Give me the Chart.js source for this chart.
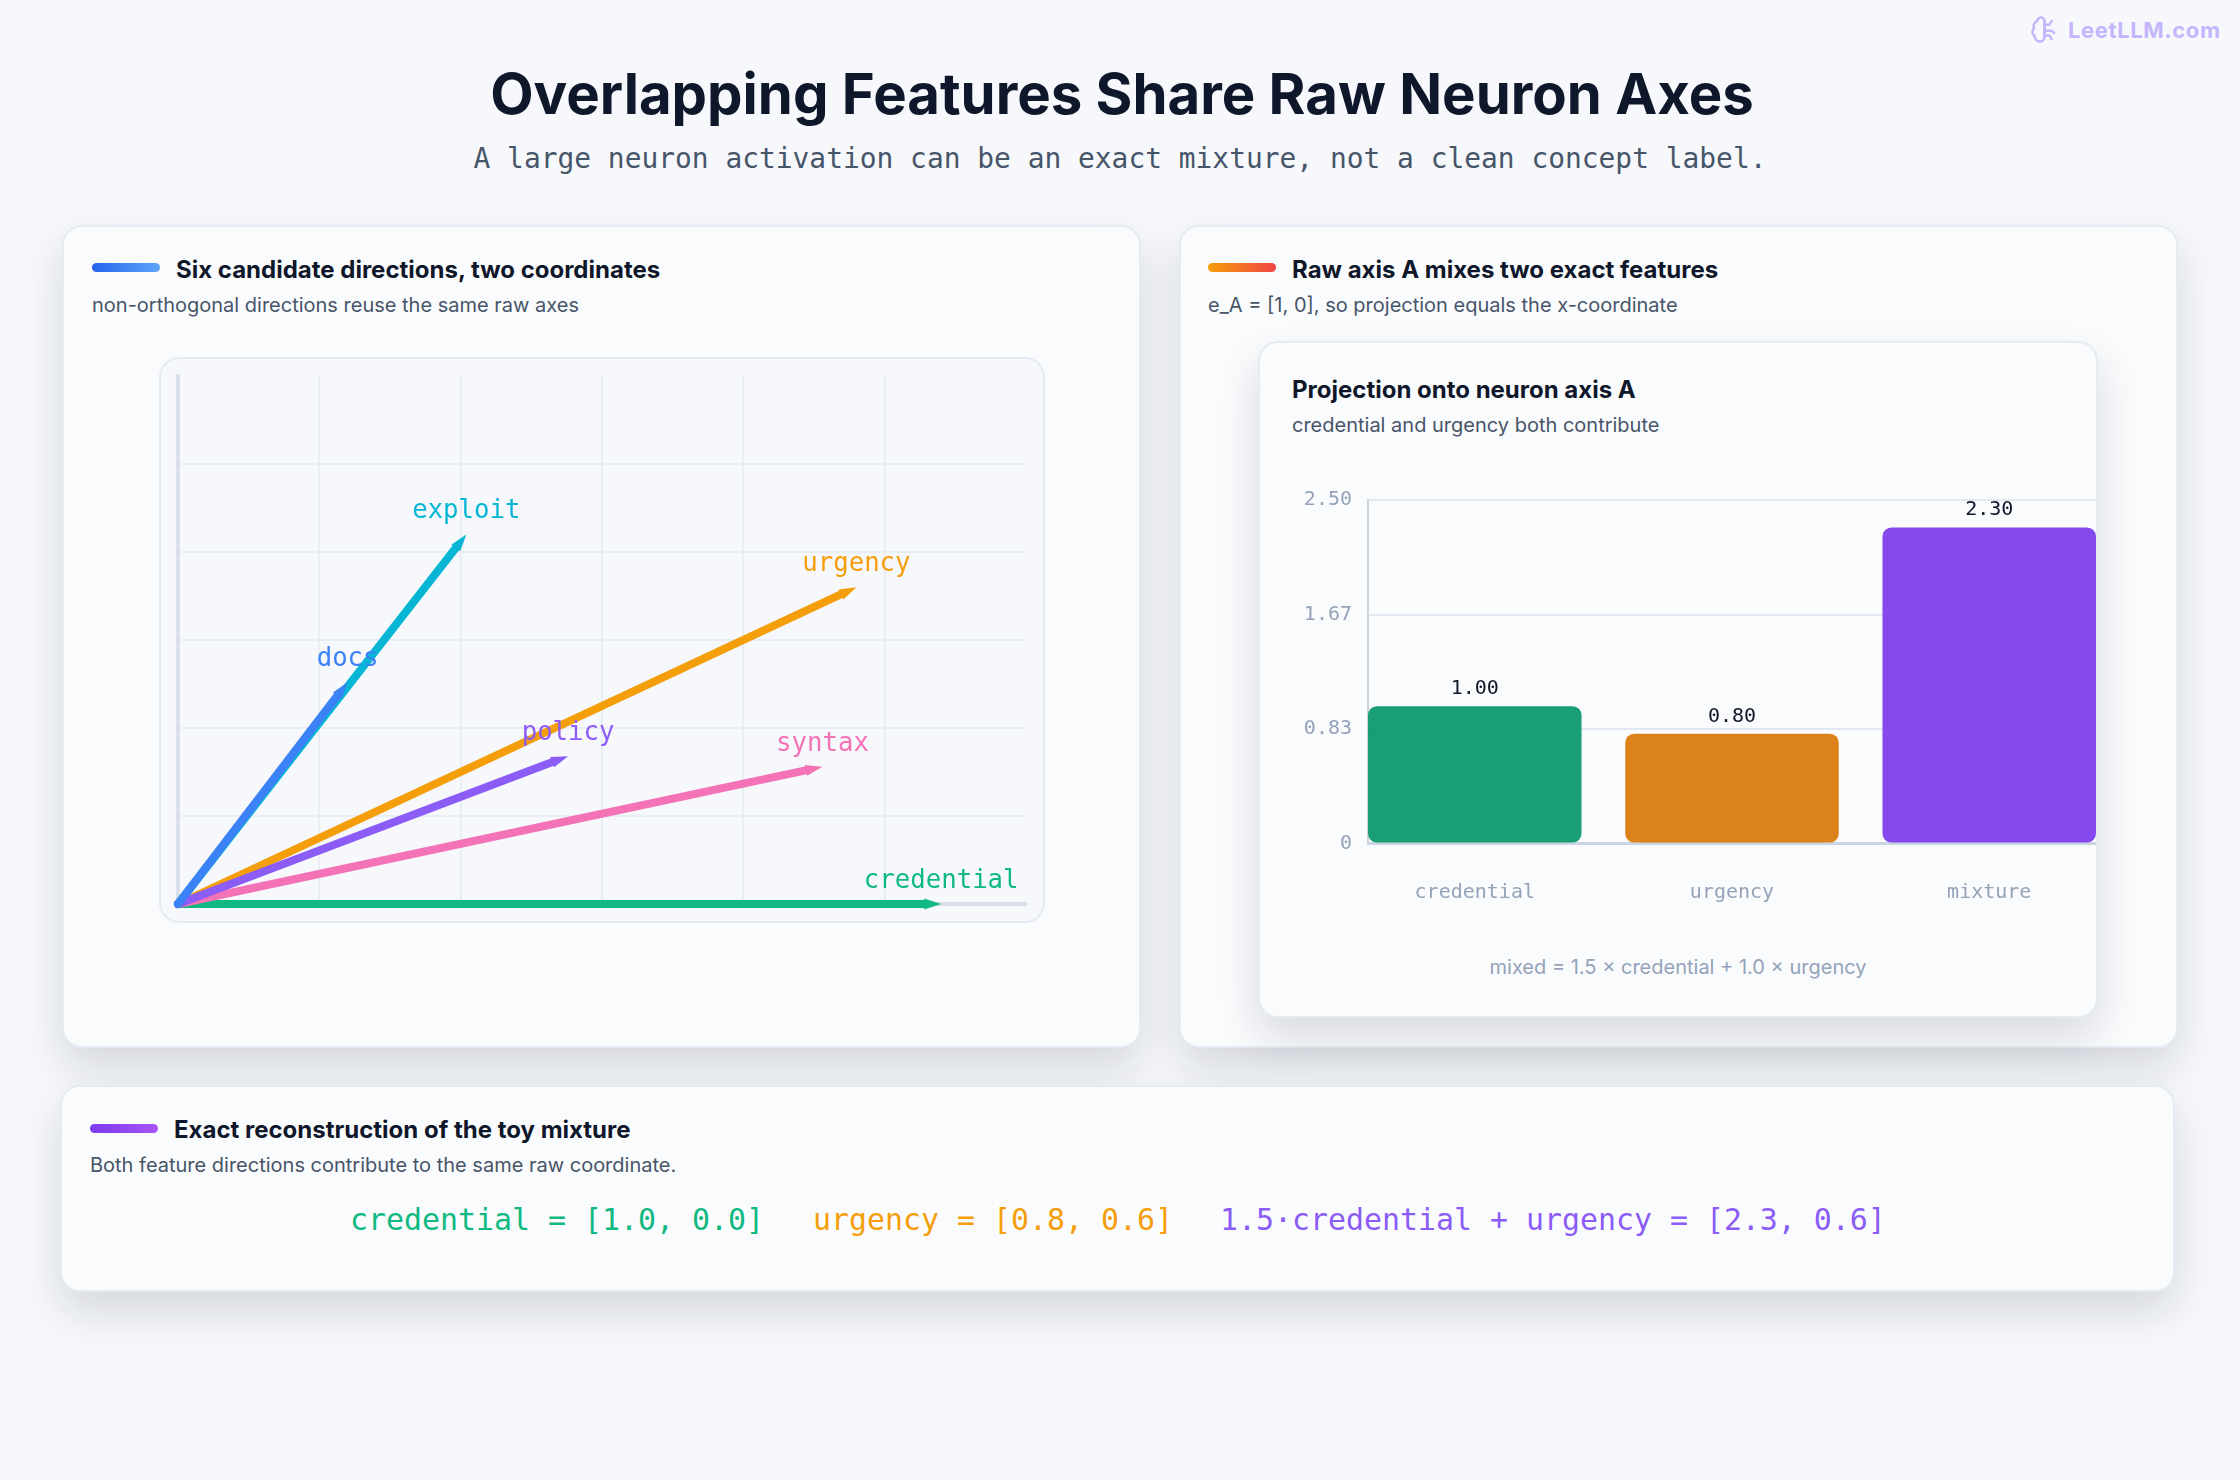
<!DOCTYPE html>
<html>
<head>
<meta charset="utf-8">
<title>Overlapping Features Share Raw Neuron Axes</title>
<script src="https://cdn.jsdelivr.net/npm/chart.js@4"></script>
<style>
    html, body { margin: 0; padding: 0; background: #f6f8fc; }
    #page { position: relative; width: 2240px; height: 1480px; overflow: hidden; font-family: Inter, sans-serif; }
    #page > * { position: absolute; }
    .t { line-height: 0; white-space: pre; }
    .mono { font-family: "DejaVu Sans Mono", monospace; }
    .card { box-sizing: border-box; background: #fafbfd; border: 2px solid #e6ebf3; border-radius: 20px; box-shadow: 0 20px 44px rgba(15, 23, 42, 0.14); }
    .head { font-size: 24px; font-weight: 700; color: #0f172a; }
    .sub { font-size: 20px; color: #475569; }
    .bar { height: 9px; border-radius: 5px; }
</style>
</head>
<body>
<div id="page">
    <svg style="left:2030px;top:15px" width="29" height="29" viewBox="0 0 24 24" fill="none" stroke="#c4b5fd" stroke-width="2" stroke-linecap="round" stroke-linejoin="round">
        <path d="M12 5a3 3 0 1 0-5.997.125 4 4 0 0 0-2.526 5.77 4 4 0 0 0 .556 6.588A4 4 0 1 0 12 18Z"/>
        <path d="M12 5v13M12 8h4l2-3M12 13h6l2 2M12 17h4l2 3"/>
    </svg>
    <div class="t" style="left:2068px;top:30px;font-size:22px;font-weight:700;color:#c4b5fd;letter-spacing:0.6px">LeetLLM.com</div>

    <div class="t" style="left:2px;width:2240px;text-align:center;top:94px;font-size:56.3px;font-weight:700;color:#0f172a">Overlapping Features Share Raw Neuron Axes</div>
    <div class="t mono" style="left:0;width:2240px;text-align:center;top:159px;font-size:27.9px;color:#475569">A large neuron activation can be an exact mixture, not a clean concept label.</div>

    <div class="card" style="left:62px;top:225px;width:1079px;height:823px"></div>
    <div class="card" style="left:1179px;top:225px;width:999px;height:823px"></div>

    <div class="bar" style="left:92px;top:263px;width:68px;background:linear-gradient(90deg,#2563eb,#60a5fa)"></div>
    <div class="t head" style="left:176px;top:270px">Six candidate directions, two coordinates</div>
    <div class="t sub" style="left:92px;top:305px">non-orthogonal directions reuse the same raw axes</div>

    <div class="bar" style="left:1208px;top:263px;width:68px;background:linear-gradient(90deg,#f59e0b,#ef4444)"></div>
    <div class="t head" style="left:1292px;top:270px">Raw axis A mixes two exact features</div>
    <div class="t sub" style="left:1208px;top:305px">e_A = [1, 0], so projection equals the x-coordinate</div>

    <div style="left:159px;top:357px;width:886px;height:566px;box-sizing:border-box;background:#f6f8fc;border:2px solid #e6ebf3;border-radius:20px"></div>
    <canvas id="vectorChart" style="left:160px;top:357px"></canvas>

    <div class="card" style="left:1258px;top:341px;width:840px;height:677px"></div>
    <div class="t head" style="left:1292px;top:390px">Projection onto neuron axis A</div>
    <div class="t sub" style="left:1292px;top:425px">credential and urgency both contribute</div>
    <canvas id="projectionChart" style="left:1270px;top:470px"></canvas>
    <div class="t sub" style="left:1259px;width:838px;text-align:center;top:967px;color:#94a3b8">mixed = 1.5 × credential + 1.0 × urgency</div>

    <div class="card" style="left:60px;top:1085px;width:2115px;height:207px"></div>
    <div class="bar" style="left:90px;top:1124px;width:68px;background:linear-gradient(90deg,#7c3aed,#a855f7)"></div>
    <div class="t head" style="left:174px;top:1130px">Exact reconstruction of the toy mixture</div>
    <div class="t sub" style="left:90px;top:1165px">Both feature directions contribute to the same raw coordinate.</div>
    <div class="t mono" style="left:350px;top:1220px;font-size:29.9px;color:#10b981">credential = [1.0, 0.0]</div>
    <div class="t mono" style="left:813px;top:1220px;font-size:29.9px;color:#f59e0b">urgency = [0.8, 0.6]</div>
    <div class="t mono" style="left:1220px;top:1220px;font-size:29.9px;color:#8b5cf6">1.5·credential + urgency = [2.3, 0.6]</div>
</div>

<script>
const monoFont = '"DejaVu Sans Mono", monospace';

// Feature directions, back to front so the later ones sit on top
const featureNames = ['credential', 'urgency', 'exploit', 'syntax', 'policy', 'docs'];
const featureX = [0.9, 0.8, 0.34, 0.76, 0.46, 0.2];
const featureY = [0, 0.6, 0.7, 0.26, 0.28, 0.42];
const featureColors = ['#10b981', '#f59e0b', '#06b6d4', '#f472b6', '#8b5cf6', '#3b82f6'];
const gridTicks = [0, 1 / 6, 2 / 6, 3 / 6, 4 / 6, 5 / 6, 1];

// Projection bars
const projectionNames = ['credential', 'urgency', 'mixture'];
const projectionValues = [1.0, 0.8, 2.3];
const projectionColors = ['rgba(5, 150, 105, 0.92)', 'rgba(217, 119, 6, 0.92)', 'rgba(124, 58, 237, 0.92)'];
const projectionTicks = [0, 2.5 / 3, 5 / 3, 2.5];
const projectionTickLabels = ['0', '0.83', '1.67', '2.50'];

const HEAD_LENGTH = 17;
const HEAD_HALF_WIDTH = 5.5;

function setCanvasSize(id, w, h) {
    const canvas = document.getElementById(id);
    canvas.width = w;
    canvas.height = h;
    canvas.style.width = w + 'px';
    canvas.style.height = h + 'px';
    return canvas.getContext('2d');
}

// Unit vector from a dataset's origin to its tip, in pixels
function tipGeometry(chart, i) {
    const x = chart.scales.x;
    const y = chart.scales.y;
    const tipX = x.getPixelForValue(featureX[i]);
    const tipY = y.getPixelForValue(featureY[i]);
    const dx = tipX - x.getPixelForValue(0);
    const dy = tipY - y.getPixelForValue(0);
    const len = Math.hypot(dx, dy);
    return { tipX, tipY, ux: dx / len, uy: dy / len };
}

const arrowPlugin = {
    id: 'arrows',
    // Stop each shaft where its arrowhead starts
    afterDatasetsUpdate(chart) {
        featureNames.forEach((name, i) => {
            const g = tipGeometry(chart, i);
            const end = chart.getDatasetMeta(i).data[1];
            end.x = g.tipX - g.ux * (HEAD_LENGTH - 1);
            end.y = g.tipY - g.uy * (HEAD_LENGTH - 1);
        });
    },
    afterDraw(chart) {
        const ctx = chart.ctx;
        featureNames.forEach((name, i) => {
            const g = tipGeometry(chart, i);
            const baseX = g.tipX - g.ux * HEAD_LENGTH;
            const baseY = g.tipY - g.uy * HEAD_LENGTH;
            ctx.fillStyle = featureColors[i];
            ctx.beginPath();
            ctx.moveTo(g.tipX, g.tipY);
            ctx.lineTo(baseX - g.uy * HEAD_HALF_WIDTH, baseY + g.ux * HEAD_HALF_WIDTH);
            ctx.lineTo(baseX + g.uy * HEAD_HALF_WIDTH, baseY - g.ux * HEAD_HALF_WIDTH);
            ctx.closePath();
            ctx.fill();
        });
        // Labels go last so they stay readable over the other arrows
        ctx.font = '25.7px ' + monoFont;
        ctx.textAlign = 'center';
        ctx.textBaseline = 'alphabetic';
        featureNames.forEach((name, i) => {
            const g = tipGeometry(chart, i);
            ctx.fillStyle = featureColors[i];
            ctx.fillText(name, g.tipX, g.tipY - 16);
        });
    }
};

new Chart(setCanvasSize('vectorChart', 884, 565), {
    type: 'scatter',
    data: {
        datasets: featureNames.map((name, i) => ({
            label: name,
            data: [{ x: 0, y: 0 }, { x: featureX[i], y: featureY[i] }],
            showLine: true,
            borderColor: featureColors[i],
            borderWidth: 8,
            borderCapStyle: 'round',
            pointRadius: 0,
            clip: false,
            order: featureNames.length - i
        }))
    },
    options: {
        responsive: false,
        animation: false,
        layout: { padding: { left: 18, right: 18, top: 19, bottom: 18 } },
        plugins: { legend: { display: false }, tooltip: { enabled: false } },
        scales: {
            x: {
                type: 'linear', min: 0, max: 1,
                afterBuildTicks: axis => { axis.ticks = gridTicks.map(v => ({ value: v })); },
                ticks: { display: false, autoSkip: false },
                grid: { drawTicks: false, lineWidth: 2, color: c => c.tick && c.tick.value >= 1 ? 'transparent' : '#e9edf4' },
                border: { color: '#dae0ea', width: 4 }
            },
            y: {
                type: 'linear', min: 0, max: 1,
                afterBuildTicks: axis => { axis.ticks = gridTicks.map(v => ({ value: v })); },
                ticks: { display: false, autoSkip: false },
                grid: { drawTicks: false, lineWidth: 2, color: c => c.tick && c.tick.value >= 1 ? 'transparent' : '#e9edf4' },
                border: { color: '#dae0ea', width: 4 }
            }
        }
    },
    plugins: [arrowPlugin]
});

const valueLabelPlugin = {
    id: 'valueLabels',
    afterDatasetsDraw(chart) {
        const ctx = chart.ctx;
        ctx.font = '20px ' + monoFont;
        ctx.fillStyle = '#0f172a';
        ctx.textAlign = 'center';
        ctx.textBaseline = 'alphabetic';
        chart.getDatasetMeta(0).data.forEach((bar, i) => {
            ctx.fillText(projectionValues[i].toFixed(2), bar.x, bar.y - 12);
        });
    }
};

new Chart(setCanvasSize('projectionChart', 826, 450), {
    type: 'bar',
    data: {
        datasets: [{
            data: projectionNames.map((name, i) => ({ x: i, y: projectionValues[i] })),
            backgroundColor: projectionColors,
            borderRadius: 9,
            borderSkipped: false,
            barPercentage: 0.83,
            categoryPercentage: 1
        }]
    },
    options: {
        responsive: false,
        animation: false,
        layout: { padding: { top: 30 } },
        plugins: { legend: { display: false }, tooltip: { enabled: false } },
        scales: {
            // Linear index axis so the outer bars sit flush with the plot edges
            x: {
                type: 'linear', min: -0.415, max: 2.415, offset: false,
                afterBuildTicks: axis => { axis.ticks = projectionNames.map((name, i) => ({ value: i })); },
                afterFit: axis => { axis.height = 76.4; },
                ticks: {
                    autoSkip: false, maxRotation: 0, padding: 37,
                    color: '#94a3b8', font: { family: monoFont, size: 20 },
                    callback: value => projectionNames[value]
                },
                grid: { display: false, drawTicks: false, offset: false },
                border: { color: '#cbd5e1', width: 3 }
            },
            y: {
                type: 'linear', min: 0, max: 2.5,
                afterBuildTicks: axis => { axis.ticks = projectionTicks.map(v => ({ value: v })); },
                afterFit: axis => { axis.width = 98; },
                ticks: {
                    autoSkip: false, padding: 16,
                    color: '#94a3b8', font: { family: monoFont, size: 20 },
                    callback: (value, index) => projectionTickLabels[index]
                },
                grid: { drawTicks: false, lineWidth: 2, color: '#e2e8f0' },
                border: { color: '#cbd5e1', width: 2 }
            }
        }
    },
    plugins: [valueLabelPlugin]
});
</script>
</body>
</html>
